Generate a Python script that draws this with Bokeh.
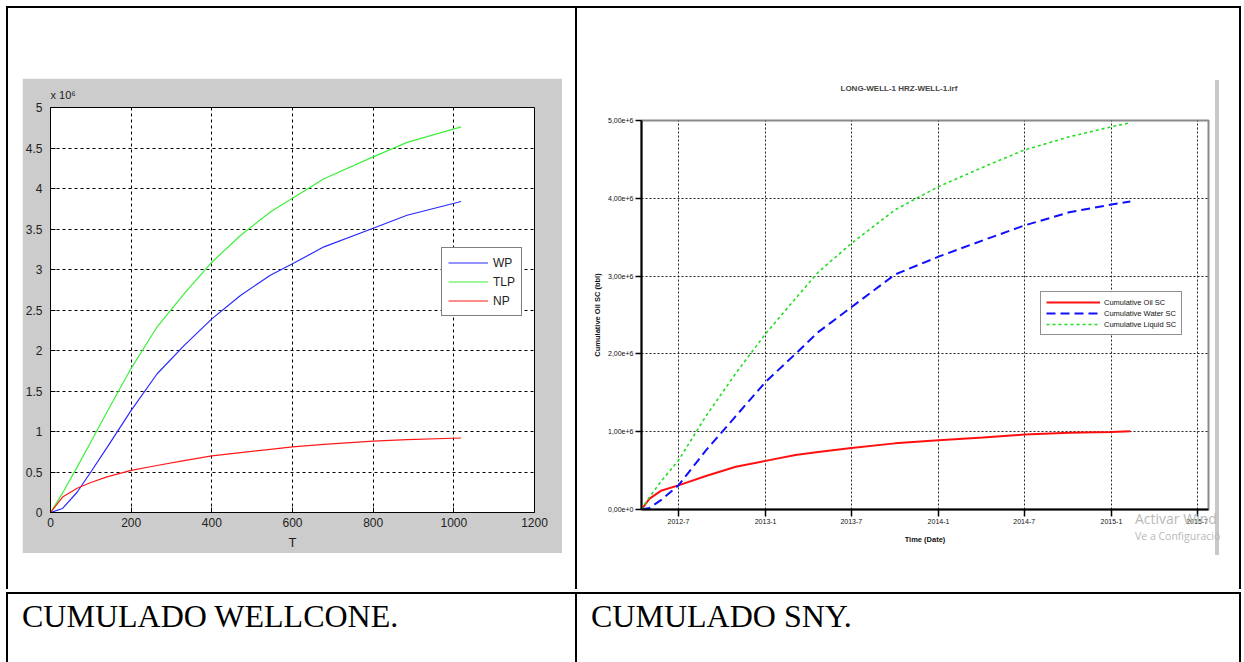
import pandas as pd
from datetime import datetime
from bokeh.plotting import figure
from bokeh.models import (ColumnDataSource, Range1d, FixedTicker, CustomJSTickFormatter,
                          Legend, LegendItem, Div, Spacer)
from bokeh.layouts import row, column
from bokeh.embed import file_html
from bokeh.resources import INLINE

# ---------------- Left chart data (WELLCONE, values x 10^6) ----------------
t_days = [0, 30, 66, 100, 140, 200, 264, 331, 400, 471, 545, 600, 678, 800, 884, 1018]
wp = [0, 0.05, 0.25, 0.50, 0.80, 1.26, 1.71, 2.06, 2.39, 2.68, 2.93, 3.07, 3.28, 3.51, 3.67, 3.84]
np_cum = [0, 0.19, 0.30, 0.37, 0.44, 0.52, 0.58, 0.64, 0.70, 0.74, 0.78, 0.81, 0.84, 0.88, 0.90, 0.92]
tlp = [0, 0.24, 0.56, 0.87, 1.24, 1.78, 2.29, 2.70, 3.09, 3.42, 3.71, 3.88, 4.12, 4.39, 4.57, 4.76]
left_x_ticks = [0, 200, 400, 600, 800, 1000, 1200]
left_x_labels = ["0", "200", "400", "600", "800", "1000", "1200"]
left_y_ticks = [0, 0.5, 1, 1.5, 2, 2.5, 3, 3.5, 4, 4.5, 5]
left_y_labels = ["0", "0.5", "1", "1.5", "2", "2.5", "3", "3.5", "4", "4.5", "5"]

# ---------------- Right chart data (SNY, bbl) ----------------
dates = ["2012-04-14", "2012-05-01", "2012-05-25", "2012-07-01", "2012-08-28", "2012-10-30",
         "2013-01-01", "2013-03-05", "2013-04-22", "2013-07-01", "2013-10-01", "2014-01-01",
         "2014-04-05", "2014-07-01", "2014-10-04", "2015-01-01", "2015-02-10"]
oil = [0, 140000, 240000, 310000, 430000, 550000, 625000, 700000, 740000, 790000, 850000,
       890000, 925000, 963000, 985000, 997000, 1006000]
water = [0, 20000, 120000, 310000, 760000, 1200000, 1640000, 2000000, 2280000, 2600000,
         3020000, 3250000, 3460000, 3650000, 3820000, 3920000, 3960000]
liquid = [0, 160000, 360000, 630000, 1200000, 1750000, 2260000, 2710000, 3050000, 3420000,
          3850000, 4150000, 4400000, 4620000, 4790000, 4920000, 4970000]
right_x_tick_dates = ["2012-07-01", "2013-01-01", "2013-07-01", "2014-01-01",
                      "2014-07-01", "2015-01-01", "2015-07-01"]
right_x_labels = ["2012-7", "2013-1", "2013-7", "2014-1", "2014-7", "2015-1", "2015-7"]
right_y_ticks = [0, 1000000, 2000000, 3000000, 4000000, 5000000]
right_y_labels = ["0,00e+0", "1,00e+6", "2,00e+6", "3,00e+6", "4,00e+6", "5,00e+6"]

JS_FMT = "const i = t.indexOf(tick); return i >= 0 ? l[i] : '';"

# ================= Left figure (MATLAB style) =================
left = figure(output_backend="svg", toolbar_location=None,
              frame_width=484, frame_height=405,
              min_border_left=28, min_border_right=28, min_border_top=29, min_border_bottom=41,
              x_range=Range1d(0, 1200), y_range=Range1d(0, 5),
              background_fill_color="white", border_fill_color="#cccccc")
left.title.text = "x 10\u2076"
left.title.text_font = "Liberation Sans"
left.title.text_font_size = "11px"
left.title.text_font_style = "normal"
left.title.text_color = "#222222"
left.title.align = "left"
left.title.standoff = 13
left.outline_line_color = "black"
left.outline_line_width = 1

left.xaxis.ticker = FixedTicker(ticks=left_x_ticks)
left.yaxis.ticker = FixedTicker(ticks=left_y_ticks)
left.xaxis.formatter = CustomJSTickFormatter(args=dict(t=left_x_ticks, l=left_x_labels), code=JS_FMT)
left.yaxis.formatter = CustomJSTickFormatter(args=dict(t=left_y_ticks, l=left_y_labels), code=JS_FMT)
for ax in (left.xaxis[0], left.yaxis[0]):
    ax.major_tick_in = 5
    ax.major_tick_out = 0
    ax.minor_tick_line_color = None
    ax.axis_line_color = "black"
    ax.major_tick_line_color = "black"
    ax.major_label_text_font = "Liberation Sans"
    ax.major_label_text_font_size = "12px"
    ax.major_label_text_color = "#222222"
left.xaxis.major_label_standoff = 5
left.yaxis.major_label_standoff = 8
left.xaxis.axis_label = "T"
left.xaxis.axis_label_text_font = "Liberation Sans"
left.xaxis.axis_label_text_font_size = "13px"
left.xaxis.axis_label_text_font_style = "normal"
left.xaxis.axis_label_text_color = "#222222"
left.xaxis.axis_label_standoff = 5
left.grid.grid_line_color = "black"
left.grid.grid_line_dash = "3 3"
left.grid.grid_line_width = 1

lsrc = ColumnDataSource(dict(t=t_days, wp=wp, tlp=tlp, np=np_cum))
r_wp = left.line("t", "wp", source=lsrc, line_color="#2a2aff", line_width=1.2)
r_tlp = left.line("t", "tlp", source=lsrc, line_color="#3cf03c", line_width=1.2)
r_np = left.line("t", "np", source=lsrc, line_color="#ff1a1a", line_width=1.2)
lleg = Legend(items=[LegendItem(label="WP", renderers=[r_wp]),
                     LegendItem(label="TLP", renderers=[r_tlp]),
                     LegendItem(label="NP", renderers=[r_np])],
              location=(391, 196))
lleg.glyph_width = 40
lleg.glyph_height = 17
lleg.label_height = 17
lleg.spacing = 2
lleg.padding = 6
lleg.margin = 0
lleg.label_standoff = 5
lleg.label_text_font = "Liberation Sans"
lleg.label_text_font_size = "12px"
lleg.label_text_color = "#222222"
lleg.border_line_color = "black"
lleg.border_line_width = 1
lleg.background_fill_color = "white"
lleg.background_fill_alpha = 1
left.add_layout(lleg)

# ================= Right figure (simulator style) =================
right = figure(output_backend="svg", toolbar_location=None, x_axis_type="datetime",
               frame_width=567, frame_height=389,
               min_border_left=56, min_border_right=5, min_border_top=70, min_border_bottom=43,
               x_range=Range1d(start=datetime(2012, 4, 14), end=datetime(2015, 7, 25)),
               y_range=Range1d(0, 5000000),
               background_fill_color="white", border_fill_color="white")
right.title.text = "LONG-WELL-1 HRZ-WELL-1.irf"
right.title.text_font = "Liberation Sans"
right.title.text_font_size = "8px"
right.title.text_font_style = "bold"
right.title.align = "left"
right.title.offset = 199
right.title.standoff = 56
right.outline_line_color = "#8a8a8a"
right.outline_line_width = 2

x_tick_ms = [int(v) for v in (pd.to_datetime(right_x_tick_dates).astype("int64") // 10**6)]
right.xaxis.ticker = FixedTicker(ticks=x_tick_ms)
right.yaxis.ticker = FixedTicker(ticks=right_y_ticks)
right.xaxis.formatter = CustomJSTickFormatter(args=dict(t=x_tick_ms, l=right_x_labels), code=JS_FMT)
right.yaxis.formatter = CustomJSTickFormatter(args=dict(t=right_y_ticks, l=right_y_labels), code=JS_FMT)
for ax in (right.xaxis[0], right.yaxis[0]):
    ax.major_tick_in = 0
    ax.minor_tick_line_color = None
    ax.axis_line_color = "black"
    ax.axis_line_width = 2
    ax.major_tick_line_color = "black"
    ax.major_tick_line_width = 1.5
    ax.major_label_text_font = "Liberation Sans"
    ax.major_label_text_font_size = "7px"
    ax.major_label_text_color = "#111111"
    ax.major_label_standoff = 2
    ax.axis_label_text_font = "Liberation Sans"
    ax.axis_label_text_font_size = "7.5px"
    ax.axis_label_text_font_style = "bold"
    ax.axis_label_text_color = "#111111"
right.xaxis.major_tick_out = 7
right.yaxis.major_tick_out = 6
right.xaxis.axis_label = "Time (Date)"
right.xaxis.axis_label_standoff = 8
right.yaxis.axis_label = "Cumulative Oil SC (bbl)"
right.yaxis.axis_label_standoff = 3
right.grid.grid_line_color = "#222222"
right.grid.grid_line_dash = "2 2"
right.grid.grid_line_width = 1

rsrc = ColumnDataSource(dict(d=pd.to_datetime(dates), oil=oil, water=water, liquid=liquid))
r_oil = right.line("d", "oil", source=rsrc, line_color="#ff1010", line_width=2)
r_water = right.line("d", "water", source=rsrc, line_color="#1010ff", line_width=2, line_dash="9 5")
r_liq = right.line("d", "liquid", source=rsrc, line_color="#22dd22", line_width=1.6, line_dash="3 3")
rleg = Legend(items=[LegendItem(label="Cumulative Oil SC", renderers=[r_oil]),
                     LegendItem(label="Cumulative Water SC", renderers=[r_water]),
                     LegendItem(label="Cumulative Liquid SC", renderers=[r_liq])],
              location=(399, 174))
rleg.glyph_width = 54
rleg.glyph_height = 10
rleg.label_height = 10
rleg.spacing = 1
rleg.padding = 5
rleg.margin = 0
rleg.label_standoff = 4
rleg.label_text_font = "Liberation Sans"
rleg.label_text_font_size = "7.5px"
rleg.label_text_color = "#111111"
rleg.border_line_color = "#222222"
rleg.border_line_width = 1
rleg.background_fill_color = "white"
right.add_layout(rleg)

# ================= Table layout (page origin at 0,0) =================
def vline(h):
    return Div(text="", width=2, height=h, margin=0, styles={"background-color": "#000000"})

def hline(w):
    return Div(text="", width=w, height=2, margin=0, styles={"background-color": "#000000"})

def sp(w, h):
    return Spacer(width=w, height=h, margin=0)

def caption(txt, w, pad_left):
    html = ('<div style="font-family:\'Liberation Serif\',\'Times New Roman\',serif;'
            'font-size:32px;line-height:1;color:#000;padding-top:6px;padding-left:%dpx;'
            'white-space:nowrap;">%s</div>' % (pad_left, txt))
    return Div(text=html, width=w, height=70, margin=0)

# Windows activation watermark, only the part visible in the reference screenshot
watermark_html = (
    '<div style="position:absolute;left:-84px;top:462px;white-space:nowrap;'
    'font-family:\'Open Sans\',sans-serif;color:#b9b9b9;line-height:1;">'
    '<div style="font-size:14px;">Activar Wind</div>'
    '<div style="font-size:10.5px;margin-top:5px;">Ve a Configuraci\u00f3</div>'
    '</div>')
watermark = Div(text=watermark_html, width=20, height=502, margin=0,
                styles={"overflow": "visible", "position": "relative"})

gray_bar = column(sp(4, 30), Div(text="", width=4, height=475, margin=0,
                                 styles={"background-color": "#c8c8c8"}), spacing=0)

left_cell = column(sp(567, 70),
                   row(sp(14, 475), left, sp(13, 475), spacing=0),
                   sp(567, 36), spacing=0)
right_cell = column(sp(662, 42),
                    row(sp(8, 502), right, sp(2, 502), gray_bar, watermark, spacing=0),
                    sp(662, 37), spacing=0)

top_row = row(vline(581), left_cell, vline(581), right_cell, vline(581), spacing=0)
bottom_row = row(vline(70), caption("CUMULADO WELLCONE.", 567, 14), vline(70),
                 caption("CUMULADO SNY.", 662, 14), vline(70), spacing=0)
table = column(hline(1235), top_row, hline(1235), bottom_row, spacing=0)
page = column(sp(1241, 6), row(sp(6, 655), table, spacing=0), spacing=0)

open("out.html", "w").write(file_html(page, INLINE, title="Cumulado WELLCONE / SNY"))
